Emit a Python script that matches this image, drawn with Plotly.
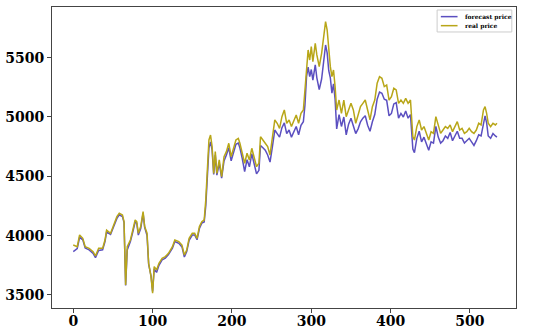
import plotly.graph_objects as go

# ── Data ──────────────────────────────────────────────────────
steps = [0, 5, 8, 12, 15, 20, 25, 28, 32, 37, 40, 42, 47, 50, 55, 58, 62, 64, 66, 68,
         72, 75, 78, 80, 82, 85, 87, 88, 90, 93, 95, 98, 100, 102, 105, 108, 112, 116, 120, 125,
         128, 133, 137, 140, 143, 146, 150, 153, 156, 159, 162, 165, 167, 169, 171, 173, 175, 177, 179, 181,
         184, 187, 190, 193, 196, 199, 202, 205, 208, 210, 213, 216, 219, 222, 225, 228, 231, 234, 236, 239,
         242, 245, 248, 251, 254, 257, 260, 263, 266, 269, 272, 275, 278, 281, 284, 287, 290, 292, 294, 296,
         298, 300, 302, 305, 307, 310, 313, 316, 318, 320, 322, 324, 326, 328, 330, 332, 335, 338, 341, 344,
         347, 350, 353, 356, 359, 362, 365, 368, 371, 374, 377, 380, 383, 386, 389, 392, 395, 398, 401, 404,
         407, 410, 413, 416, 419, 422, 425, 428, 430, 433, 436, 439, 442, 445, 448, 451, 454, 457, 460, 463,
         466, 469, 472, 475, 478, 481, 484, 487, 490, 493, 496, 499, 502, 505, 508, 511, 514, 517, 519, 521,
         523, 526, 529, 532, 534]

real_price = [3921, 3907, 4006, 3977, 3907, 3893, 3865, 3829, 3893, 3893, 3963, 4047, 4020, 4076, 4160, 4188, 4174, 4118, 3584, 3907,
              3963, 4047, 4132, 4118, 4020, 4076, 4188, 4202, 4076, 4020, 3767, 3654, 3514, 3739, 3711, 3767, 3809, 3823, 3851, 3907,
              3963, 3949, 3921, 3837, 3879, 3977, 4020, 4020, 3977, 4076, 4118, 4132, 4300, 4581, 4806, 4848, 4750, 4525, 4708, 4525,
              4638, 4497, 4666, 4708, 4778, 4666, 4736, 4806, 4820, 4778, 4694, 4610, 4694, 4638, 4736, 4652, 4581, 4610, 4834, 4806,
              4778, 4750, 4680, 4834, 4975, 4947, 4904, 5003, 5059, 4947, 4975, 4919, 4975, 5017, 4947, 5031, 5059, 5228, 5452, 5565,
              5480, 5593, 5466, 5621, 5523, 5424, 5537, 5705, 5803, 5733, 5537, 5424, 5340, 5396, 5256, 5059, 5143, 5031, 5143, 5003,
              5059, 5115, 5059, 4947, 5017, 5087, 5115, 5143, 5059, 4975, 5087, 5143, 5284, 5340, 5326, 5256, 5270, 5143, 5171, 5242,
              5228, 5115, 5143, 5115, 5157, 5115, 5143, 4834, 4806, 4919, 4975, 4890, 4919, 4862, 4806, 4876, 4862, 5003, 4919, 4862,
              4890, 4919, 4904, 4933, 4876, 4919, 4961, 4890, 4904, 4862, 4876, 4904, 4876, 4862, 4890, 4947, 4933, 5059, 5087, 5031,
              4947, 4919, 4947, 4933, 4947]

forecast_price = [3865, 3890, 3985, 3965, 3895, 3880, 3850, 3815, 3875, 3880, 3950, 4030, 4010, 4060, 4145, 4175, 4160, 4110, 3580, 3880,
                  3950, 4030, 4115, 4105, 4005, 4060, 4170, 4190, 4070, 4000, 3760, 3660, 3530, 3720, 3690, 3750, 3795, 3810, 3840, 3895,
                  3950, 3935, 3905, 3820, 3865, 3960, 4005, 4005, 3965, 4060, 4105, 4115, 4250, 4520, 4740, 4790, 4720, 4515, 4680, 4510,
                  4610, 4485, 4630, 4680, 4740, 4630, 4700, 4770, 4780, 4740, 4650, 4540, 4640, 4580, 4690, 4600, 4520, 4550, 4760, 4740,
                  4720, 4680, 4620, 4750, 4890, 4860, 4830, 4910, 4950, 4860, 4890, 4830, 4880, 4920, 4850, 4930, 4960, 5100, 5340, 5420,
                  5340, 5400, 5310, 5440, 5330, 5230, 5320, 5500, 5607, 5540, 5390, 5330, 5200, 5280, 5150, 4900, 5020, 4920, 5000, 4850,
                  4940, 4990, 4920, 4860, 4900, 4960, 4990, 5010, 4930, 4880, 4960, 5020, 5150, 5210, 5200, 5150, 5140, 5010, 5030, 5110,
                  5120, 4990, 5030, 5000, 5050, 4990, 5020, 4730, 4700, 4820, 4880, 4790, 4830, 4780, 4720, 4790, 4780, 4920, 4830, 4780,
                  4800, 4840, 4820, 4870, 4800, 4840, 4880, 4820, 4820, 4780, 4800, 4820, 4790, 4760, 4800, 4850, 4840, 4960, 5010, 4950,
                  4840, 4820, 4860, 4840, 4830]

x_ticks = [0, 100, 200, 300, 400, 500]
y_ticks = [3500, 4000, 4500, 5000, 5500]

assert len(steps) == len(real_price) == len(forecast_price)

FORECAST_COLOR = "#5b4fc0"
REAL_COLOR = "#b8a618"

# ── Plot ──────────────────────────────────────────────────────
tick_font = dict(family="DejaVu Serif", size=14, color="black", weight="bold")

fig = go.Figure()
fig.add_trace(go.Scatter(x=steps, y=forecast_price, name="forecast price", mode="lines",
                         line=dict(color=FORECAST_COLOR, width=1.5)))
fig.add_trace(go.Scatter(x=steps, y=real_price, name="real price", mode="lines",
                         line=dict(color=REAL_COLOR, width=1.5)))

axis_common = dict(showgrid=False, zeroline=False, showline=True, linecolor="#444444",
                   linewidth=1, mirror=True, ticks="outside", ticklen=4, tickcolor="#444444",
                   tickfont=tick_font, automargin=False)

fig.update_xaxes(range=[-26.8, 558], tickvals=x_ticks, ticklabelstandoff=-4, **axis_common)
fig.update_yaxes(range=[3390, 5927], tickvals=y_ticks, **axis_common)

# hand-made legend (matplotlib style, compact)
fig.add_shape(type="rect", xref="paper", yref="paper", x0=0.830, x1=0.991, y0=0.917, y1=0.990,
              line=dict(color="#cccccc", width=1), fillcolor="white", layer="above")
legend_rows = [("forecast price", FORECAST_COLOR, 0.968), ("real price", REAL_COLOR, 0.938)]
for label, color, yy in legend_rows:
    fig.add_shape(type="line", xref="paper", yref="paper", x0=0.838, x1=0.874, y0=yy, y1=yy,
                  line=dict(color=color, width=1.5), layer="above")
    fig.add_annotation(xref="paper", yref="paper", x=0.885, y=yy, text=label, showarrow=False,
                       xanchor="left", yanchor="middle",
                       font=dict(family="DejaVu Serif", size=6, color="black", weight="bold"))

fig.update_layout(
    width=550, height=331,
    margin=dict(l=52, r=34, t=7, b=23),
    paper_bgcolor="white", plot_bgcolor="white",
    showlegend=False,
)

# drop the browser's default 8px body margin so the figure sits at the page corner
fig.write_html("out.html", config={"displayModeBar": False},
               post_script="document.body.style.margin='0';")
